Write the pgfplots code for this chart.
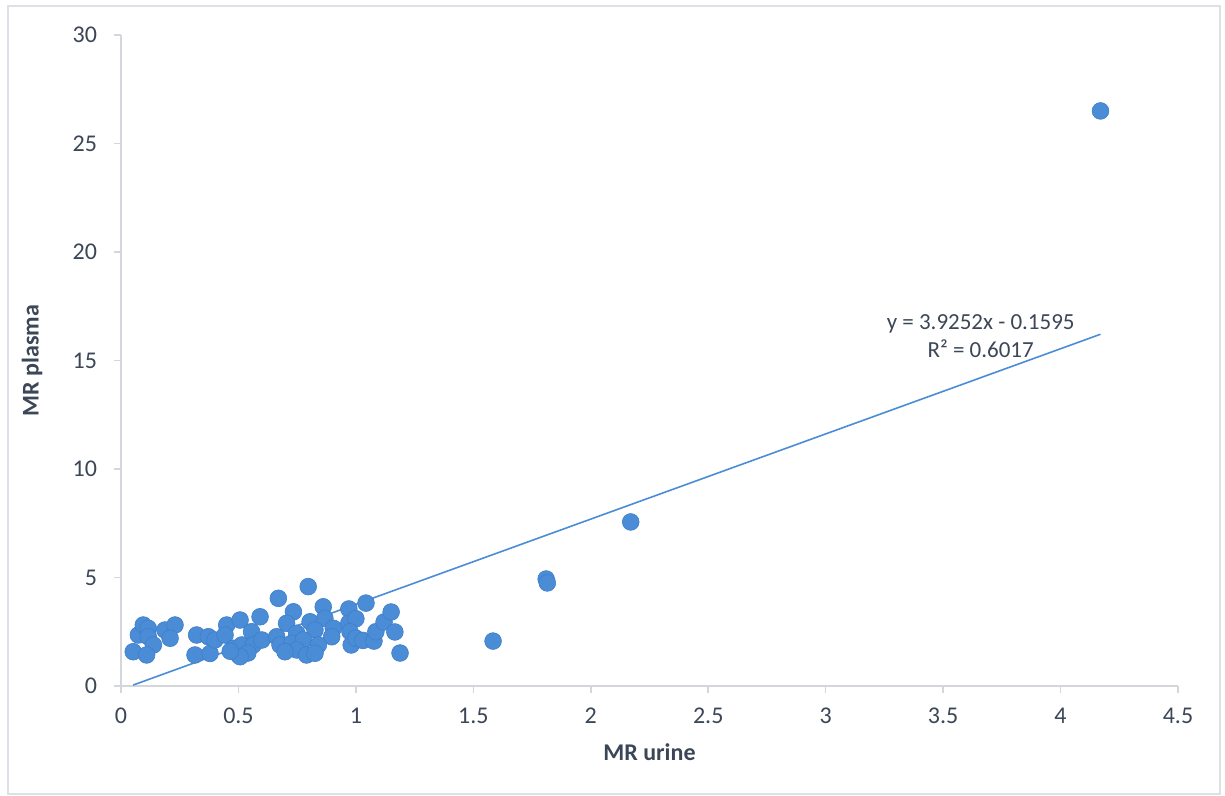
\documentclass[border=0pt]{standalone}
\usepackage{fontspec}
\setmainfont{Carlito}
\usepackage{pgfplots}
\pgfplotsset{compat=1.18}
\definecolor{mk}{HTML}{4A8CD6}
\definecolor{mkd}{HTML}{3F7FC8}
\definecolor{txt}{HTML}{3B4656}
\definecolor{axl}{HTML}{D3D7DC}
\definecolor{frm}{HTML}{DDE0E5}
\begin{document}
\begin{tikzpicture}
\path[use as bounding box] (-60.5pt,-55pt) rectangle (552pt,343pt);
\draw[frm, line width=0.8pt] (-56.5pt,-54pt) rectangle (549.5pt,340pt);
\begin{axis}[
  at={(0,0)}, anchor=south west,
  scale only axis, width=528.5pt, height=325.5pt,
  xmin=0, xmax=4.5, ymin=0, ymax=30,
  xtick={0,0.5,...,4.5}, ytick={0,5,...,30},
  xticklabels={0,0.5,1,1.5,2,2.5,3,3.5,4,4.5},
  axis lines=left, axis line style={-, axl, line width=0.8pt},
  tick style={axl, line width=0.8pt}, tick align=outside,
  major tick length=3.5pt,
  /pgf/number format/assume math mode=true,
  ticklabel style={font=\fontsize{12}{14}\selectfont, text=txt},
  xticklabel style={yshift=-4pt},
  yticklabel style={xshift=-5pt},
  xlabel={MR urine}, ylabel={MR plasma},
  label style={font=\fontsize{12}{14}\selectfont\bfseries, text=txt},
  xlabel style={at={(axis description cs:0.5,-0.1014)}, anchor=center},
  ylabel style={at={(axis description cs:-0.0842,0.5)}, anchor=center},
  clip=false,
]
\addplot[only marks, mark=*, mark size=4.2pt, mark options={fill=mk, draw=mkd, line width=0.3pt}] coordinates {
(0.052,1.58) (0.074,2.35) (0.095,2.81) (0.116,2.66) (0.116,2.27) (0.138,1.89)
(0.109,1.43) (0.187,2.58) (0.230,2.81) (0.209,2.20) (0.315,1.43) (0.322,2.35)
(0.379,1.50) (0.372,2.27) (0.400,2.12) (0.450,2.81) (0.443,2.35) (0.507,3.04)
(0.478,1.74) (0.500,1.43) (0.514,1.89) (0.556,2.50) (0.592,3.19) (0.563,1.89)
(0.600,2.12) (0.540,1.52) (0.507,1.35) (0.465,1.60) (0.670,4.04) (0.797,4.58)
(0.734,3.42) (0.861,3.65) (0.705,2.89) (0.805,2.96) (0.868,3.12) (0.663,2.27)
(0.748,2.43) (0.826,2.58) (0.904,2.66) (0.897,2.27) (0.677,1.89) (0.727,1.97)
(0.776,2.12) (0.840,1.89) (0.748,1.66) (0.790,1.43) (0.826,1.51) (0.698,1.58)
(0.970,3.55) (0.970,2.90) (1.000,3.10) (0.975,2.50) (0.980,1.89) (1.000,2.20)
(1.030,2.10) (1.043,3.82) (1.077,2.07) (1.085,2.50) (1.120,2.95) (1.150,3.41)
(1.166,2.49) (1.188,1.52) (1.584,2.07) (1.810,4.93) (1.815,4.75) (2.170,7.56)
(4.170,26.5)
};
\addplot[mk, line width=0.8pt] coordinates {(0.052,0.0446) (4.17,16.209)};
\node[text=txt, font=\fontsize{11.5}{14}\selectfont, align=center] at (axis cs:3.66,16.1) {y = 3.9252x - 0.1595\\R² = 0.6017};
\end{axis}
\end{tikzpicture}
\end{document}
